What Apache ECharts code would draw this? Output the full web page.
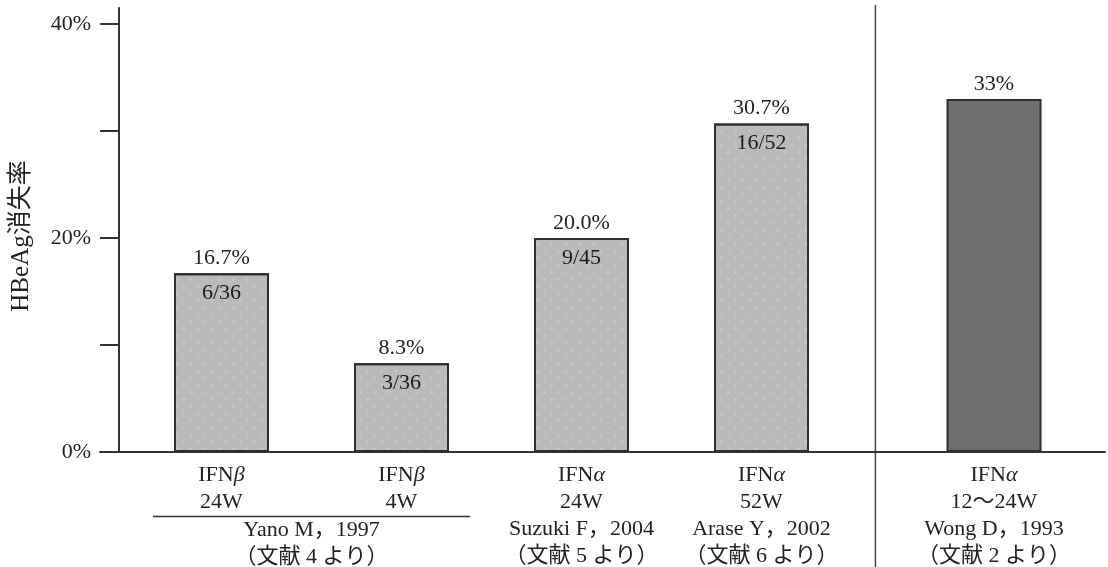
<!DOCTYPE html>
<html>
<head>
<meta charset="utf-8">
<script src="https://cdn.jsdelivr.net/npm/echarts@6/dist/echarts.min.js"></script>
<style>
html,body{margin:0;padding:0;background:#fff;}
#c{width:1108px;height:567px;}
</style>
</head>
<body>
<div id="c"></div>
<script>
// ---- data ----
const drugs = ['IFN', 'IFN', 'IFN', 'IFN', 'IFN'];
const greek = ['β', 'β', 'α', 'α', 'α'];
const durations = ['24W', '4W', '24W', '52W', '12～24W'];
const studies = ['', '', 'Suzuki F，2004', 'Arase Y，2002', 'Wong D，1993'];
const refs = ['', '', '（文献 5 より）', '（文献 6 より）', '（文献 2 より）'];
const groupStudies = ['Yano M，1997', ''];
const groupRefs = ['（文献 4 より）', ''];
const rates = [16.7, 8.3, 20.0, 30.7, 33];
const rateLabels = ['16.7%', '8.3%', '20.0%', '30.7%', '33%'];
const counts = ['6/36', '3/36', '9/45', '16/52', ''];
const yTicks = [0, 10, 20, 30, 40];
const yTickLabels = [0, 20, 40];
const yName = 'HBeAg消失率';

const FONT = '"Liberation Serif", "Noto Sans CJK JP", serif';
const FS = 22;
const TXT = '#222';
const AX = '#333';

function catLabel(i) {
  let s = drugs[i] + '{g|' + greek[i] + '}\n' + durations[i];
  if (studies[i]) s += '\n' + studies[i] + '\n' + refs[i];
  return s;
}

const leftIdx = [0, 1, 2, 3];
const rightIdx = [4];

const chart = echarts.init(document.getElementById('c'), null, {renderer: 'canvas'});

const barStyleLight = {
  color: '#bababa',
  borderColor: '#2e2e2e',
  borderWidth: 2,
  decal: {
    symbol: 'circle',
    symbolSize: 0.45,
    color: 'rgba(255,255,255,0.3)',
    dashArrayX: [[5, 5]],
    dashArrayY: [5, 5],
    rotation: Math.PI / 4
  }
};

const gridBase = {top: 8, bottom: 115, containLabel: false, outerBoundsMode: 'none'};

const option = {
  backgroundColor: '#fff',
  animation: false,
  textStyle: {fontFamily: FONT},
  grid: [
    Object.assign({left: 100, right: 3}, gridBase),
    Object.assign({left: 131.5, width: 720}, gridBase),
    Object.assign({left: 888, width: 212}, gridBase)
  ],
  xAxis: [
    {gridIndex: 0, type: 'value', min: 0, max: 1,
     axisLine: {show: true, lineStyle: {color: AX, width: 2}},
     axisTick: {show: false}, axisLabel: {show: false}, splitLine: {show: false}},
    {gridIndex: 1, type: 'category', data: leftIdx.map(String),
     axisLine: {show: false}, axisTick: {show: false},
     axisLabel: {
       margin: 10, interval: 0, fontSize: FS, lineHeight: 27, color: TXT, fontFamily: FONT,
       formatter: (v, i) => catLabel(leftIdx[i]),
       rich: {g: {fontStyle: 'italic', fontSize: FS, lineHeight: 27, color: TXT, fontFamily: FONT}}
     }},
    {gridIndex: 1, type: 'category', data: groupStudies.map((_, i) => String(i)), position: 'bottom',
     axisLine: {show: false}, axisTick: {show: false},
     axisLabel: {
       margin: 64.5, interval: 0, fontSize: FS, lineHeight: 27, color: TXT, fontFamily: FONT,
       formatter: (v, i) => groupStudies[i] ? groupStudies[i] + '\n' + groupRefs[i] : ''
     }},
    {gridIndex: 2, type: 'category', data: rightIdx.map(String),
     axisLine: {show: false}, axisTick: {show: false},
     axisLabel: {
       margin: 10, interval: 0, fontSize: FS, lineHeight: 27, color: TXT, fontFamily: FONT,
       formatter: (v, i) => catLabel(rightIdx[i]),
       rich: {g: {fontStyle: 'italic', fontSize: FS, lineHeight: 27, color: TXT, fontFamily: FONT}}
     }}
  ],
  yAxis: [
    {gridIndex: 0, type: 'value', min: 0, max: 41.5, show: false},
    {gridIndex: 1, type: 'value', min: 0, max: 41.5, offset: 12.5,
     name: yName, nameLocation: 'middle', nameGap: 85, nameRotate: 90,
     nameTextStyle: {fontSize: 25, color: TXT, fontFamily: FONT, padding: [0, 12, 0, 0]},
     axisLine: {show: true, lineStyle: {color: AX, width: 2}},
     axisTick: {show: true, length: 19, customValues: yTicks, lineStyle: {color: AX, width: 2}},
     axisLabel: {margin: 28, fontSize: FS, color: TXT, fontFamily: FONT, customValues: yTickLabels,
       formatter: v => v + '%'},
     splitLine: {show: false}},
    {gridIndex: 2, type: 'value', min: 0, max: 41.5, show: false}
  ],
  series: [
    {type: 'bar', xAxisIndex: 1, yAxisIndex: 1, barWidth: 95,
     data: leftIdx.map(i => rates[i]),
     itemStyle: barStyleLight,
     label: {show: true, position: 'top', distance: 4, fontSize: FS, color: TXT, fontFamily: FONT,
       formatter: p => rateLabels[leftIdx[p.dataIndex]]}},
    {type: 'bar', xAxisIndex: 1, yAxisIndex: 1, barWidth: 95, barGap: '-100%', z: 5,
     data: leftIdx.map(i => rates[i]),
     itemStyle: {color: 'rgba(0,0,0,0)'},
     label: {show: true, position: 'insideTop', distance: 9, fontSize: FS, color: '#1a1a1a', fontFamily: FONT,
       formatter: p => counts[leftIdx[p.dataIndex]]}},
    {type: 'bar', xAxisIndex: 3, yAxisIndex: 2, barWidth: 95,
     data: rightIdx.map(i => rates[i]),
     itemStyle: {color: '#6e6e6e', borderColor: '#2e2e2e', borderWidth: 2},
     label: {show: true, position: 'top', distance: 4, fontSize: FS, color: TXT, fontFamily: FONT,
       formatter: p => rateLabels[rightIdx[p.dataIndex]]}}
  ]
};
chart.setOption(option);

// decorations derived from axes
const x0 = chart.convertToPixel({xAxisIndex: 1}, '0');
const x1 = chart.convertToPixel({xAxisIndex: 1}, '1');
const x3 = chart.convertToPixel({xAxisIndex: 1}, '3');
const x4 = chart.convertToPixel({xAxisIndex: 3}, '0');
const yBase = chart.convertToPixel({yAxisIndex: 1}, 0);
const sepX = x3 + (x4 - x3) * 0.49;
chart.setOption({
  graphic: [
    {type: 'line', shape: {x1: x0 - 68.5, y1: yBase + 64.5, x2: x1 + 68.5, y2: yBase + 64.5},
     style: {stroke: '#333', lineWidth: 1.5}, silent: true},
    {type: 'line', shape: {x1: sepX, y1: 5, x2: sepX, y2: 567},
     style: {stroke: '#444', lineWidth: 1.5}, silent: true}
  ]
});
</script>
</body>
</html>
